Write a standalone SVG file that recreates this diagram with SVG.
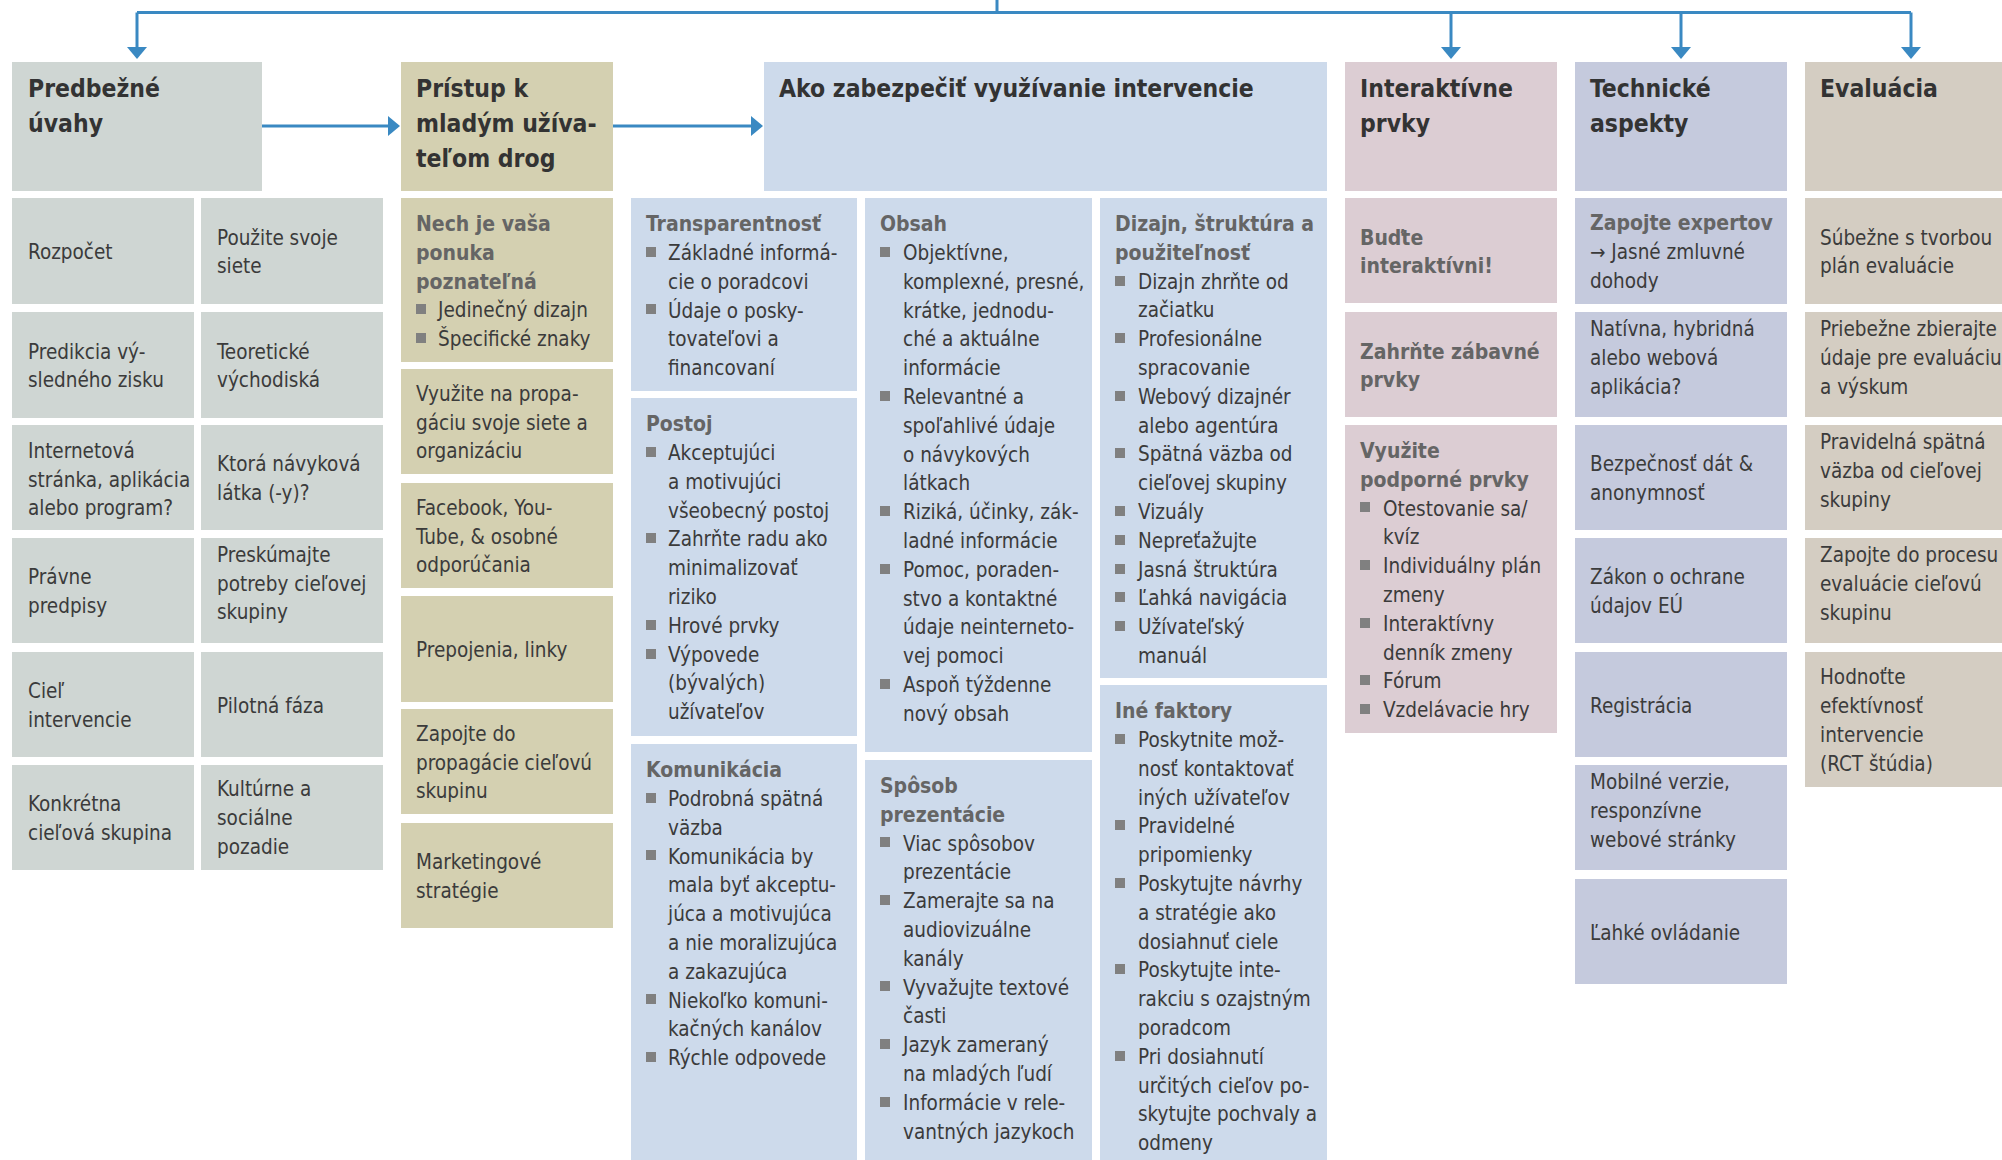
<svg xmlns="http://www.w3.org/2000/svg" width="2002" height="1160" viewBox="0 0 2002 1160">
<style>
text{font-family:"DejaVu Sans Condensed","Liberation Sans Narrow",sans-serif;}
.h{font-size:24.5px;font-weight:bold;fill:#333333;}
.t{font-size:20.5px;fill:#3b3b3b;}
.s{font-size:21px;font-weight:bold;fill:#656565;}
.b{fill:#808080;}
.c1{fill:#cfd6d3;}
.c2{fill:#d4d0b1;}
.c3{fill:#cddaeb;}
.c4{fill:#dccdd3;}
.c5{fill:#c5cadd;}
.c6{fill:#d4cdc2;}
.ln{fill:none;stroke:#3a89c2;stroke-width:3;}
</style>
<defs>
<marker id="ah" viewBox="0 0 12 20" refX="0" refY="10" markerWidth="12" markerHeight="20" markerUnits="userSpaceOnUse" orient="auto">
<path d="M0,0 L12,10 L0,20 z" fill="#3a89c2"/>
</marker>
</defs>

<g id="connectors">
<path class="ln" d="M997,0 V12.5"/>
<path class="ln" d="M137,12.5 H1911"/>
<path class="ln" d="M137,12.5 V47" marker-end="url(#ah)"/>
<path class="ln" d="M1451,12.5 V47" marker-end="url(#ah)"/>
<path class="ln" d="M1681,12.5 V47" marker-end="url(#ah)"/>
<path class="ln" d="M1911,12.5 V47" marker-end="url(#ah)"/>
<path class="ln" d="M262,126 H388" marker-end="url(#ah)"/>
<path class="ln" d="M613,126 H751" marker-end="url(#ah)"/>
</g>

<!-- Column 1 -->
<g id="predbezne">
<rect class="c1" x="12" y="62" width="250" height="129"/>
<text class="h" x="28" y="97">Predbežné<tspan x="28" dy="35">úvahy</tspan></text>
</g>
<g id="p-rozpocet"><rect class="c1" x="12" y="198" width="182" height="106"/><text class="t" x="28" y="259">Rozpočet</text></g>
<g id="p-predikcia"><rect class="c1" x="12" y="312" width="182" height="106"/><text class="t" x="28" y="358.6">Predikcia vý-<tspan x="28" dy="28.8">sledného zisku</tspan></text></g>
<g id="p-internet"><rect class="c1" x="12" y="425" width="182" height="105"/><text class="t" x="28" y="457.7">Internetová<tspan x="28" dy="28.8">stránka, aplikácia</tspan><tspan x="28" dy="28.8">alebo program?</tspan></text></g>
<g id="p-pravne"><rect class="c1" x="12" y="538" width="182" height="105"/><text class="t" x="28" y="584.1">Právne<tspan x="28" dy="28.8">predpisy</tspan></text></g>
<g id="p-ciel"><rect class="c1" x="12" y="652" width="182" height="105"/><text class="t" x="28" y="698.1">Cieľ<tspan x="28" dy="28.8">intervencie</tspan></text></g>
<g id="p-konkretna"><rect class="c1" x="12" y="765" width="182" height="105"/><text class="t" x="28" y="811.1">Konkrétna<tspan x="28" dy="28.8">cieľová skupina</tspan></text></g>
<g id="p-pouzite"><rect class="c1" x="201" y="198" width="182" height="106"/><text class="t" x="217" y="244.6">Použite svoje<tspan x="217" dy="28.8">siete</tspan></text></g>
<g id="p-teoreticke"><rect class="c1" x="201" y="312" width="182" height="106"/><text class="t" x="217" y="358.6">Teoretické<tspan x="217" dy="28.8">východiská</tspan></text></g>
<g id="p-ktora"><rect class="c1" x="201" y="425" width="182" height="105"/><text class="t" x="217" y="471.1">Ktorá návyková<tspan x="217" dy="28.8">látka (-y)?</tspan></text></g>
<g id="p-preskumajte"><rect class="c1" x="201" y="538" width="182" height="105"/><text class="t" x="217" y="561.7">Preskúmajte<tspan x="217" dy="28.8">potreby cieľovej</tspan><tspan x="217" dy="28.8">skupiny</tspan></text></g>
<g id="p-pilotna"><rect class="c1" x="201" y="652" width="182" height="105"/><text class="t" x="217" y="712.5">Pilotná fáza</text></g>
<g id="p-kulturne"><rect class="c1" x="201" y="765" width="182" height="105"/><text class="t" x="217" y="796.3">Kultúrne a<tspan x="217" dy="28.8">sociálne</tspan><tspan x="217" dy="28.8">pozadie</tspan></text></g>

<!-- Column 2 -->
<g id="pristup">
<rect class="c2" x="401" y="62" width="212" height="129"/>
<text class="h" x="416" y="97">Prístup k<tspan x="416" dy="35">mladým užíva-</tspan><tspan x="416" dy="35">teľom drog</tspan></text>
</g>
<g id="a-nech"><rect class="c2" x="401" y="198" width="212" height="164"/>
<text class="s" x="416" y="231">Nech je vaša<tspan x="416" dy="28.8">ponuka</tspan><tspan x="416" dy="28.8">poznateľná</tspan></text>
<rect class="b" x="416" y="304" width="10" height="10"/><text class="t" x="438" y="317">Jedinečný dizajn</text>
<rect class="b" x="416" y="333" width="10" height="10"/><text class="t" x="438" y="346">Špecifické znaky</text>
</g>
<g id="a-vyuzite"><rect class="c2" x="401" y="369" width="212" height="105"/><text class="t" x="416" y="400.7">Využite na propa-<tspan x="416" dy="28.8">gáciu svoje siete a</tspan><tspan x="416" dy="28.8">organizáciu</tspan></text></g>
<g id="a-facebook"><rect class="c2" x="401" y="483" width="212" height="105"/><text class="t" x="416" y="514.7">Facebook, You-<tspan x="416" dy="28.8">Tube, &amp; osobné</tspan><tspan x="416" dy="28.8">odporúčania</tspan></text></g>
<g id="a-prepojenia"><rect class="c2" x="401" y="596" width="212" height="106"/><text class="t" x="416" y="657">Prepojenia, linky</text></g>
<g id="a-zapojte"><rect class="c2" x="401" y="709" width="212" height="105"/><text class="t" x="416" y="740.7">Zapojte do<tspan x="416" dy="28.8">propagácie cieľovú</tspan><tspan x="416" dy="28.8">skupinu</tspan></text></g>
<g id="a-marketing"><rect class="c2" x="401" y="823" width="212" height="105"/><text class="t" x="416" y="869">Marketingové<tspan x="416" dy="28.8">stratégie</tspan></text></g>

<!-- Column 3 -->
<g id="ako">
<rect class="c3" x="764" y="62" width="563" height="129"/>
<text class="h" x="779" y="97">Ako zabezpečiť využívanie intervencie</text>
</g>
<g id="u-transparentnost"><rect class="c3" x="631" y="198" width="226" height="193"/>
<text class="s" x="646" y="231">Transparentnosť</text>
<rect class="b" x="646" y="247" width="10" height="10"/>
<rect class="b" x="646" y="304" width="10" height="10"/>
<text class="t" x="668" y="260">Základné informá-<tspan x="668" dy="28.8">cie o poradcovi</tspan><tspan x="668" dy="28.8">Údaje o posky-</tspan><tspan x="668" dy="28.8">tovateľovi a</tspan><tspan x="668" dy="28.8">financovaní</tspan></text>
</g>
<g id="u-postoj"><rect class="c3" x="631" y="398" width="226" height="338"/>
<text class="s" x="646" y="431">Postoj</text>
<rect class="b" x="646" y="447" width="10" height="10"/>
<rect class="b" x="646" y="533" width="10" height="10"/>
<rect class="b" x="646" y="620" width="10" height="10"/>
<rect class="b" x="646" y="649" width="10" height="10"/>
<text class="t" x="668" y="460">Akceptujúci<tspan x="668" dy="28.8">a motivujúci</tspan><tspan x="668" dy="28.8">všeobecný postoj</tspan><tspan x="668" dy="28.8">Zahrňte radu ako</tspan><tspan x="668" dy="28.8">minimalizovať</tspan><tspan x="668" dy="28.8">riziko</tspan><tspan x="668" dy="28.8">Hrové prvky</tspan><tspan x="668" dy="28.8">Výpovede</tspan><tspan x="668" dy="28.8">(bývalých)</tspan><tspan x="668" dy="28.8">užívateľov</tspan></text>
</g>
<g id="u-komunikacia"><rect class="c3" x="631" y="744" width="226" height="416"/>
<text class="s" x="646" y="777">Komunikácia</text>
<rect class="b" x="646" y="793" width="10" height="10"/>
<rect class="b" x="646" y="850" width="10" height="10"/>
<rect class="b" x="646" y="994" width="10" height="10"/>
<rect class="b" x="646" y="1052" width="10" height="10"/>
<text class="t" x="668" y="806">Podrobná spätná<tspan x="668" dy="28.8">väzba</tspan><tspan x="668" dy="28.8">Komunikácia by</tspan><tspan x="668" dy="28.8">mala byť akceptu-</tspan><tspan x="668" dy="28.8">júca a motivujúca</tspan><tspan x="668" dy="28.8">a nie moralizujúca</tspan><tspan x="668" dy="28.8">a zakazujúca</tspan><tspan x="668" dy="28.8">Niekoľko komuni-</tspan><tspan x="668" dy="28.8">kačných kanálov</tspan><tspan x="668" dy="28.8">Rýchle odpovede</tspan></text>
</g>
<g id="u-obsah"><rect class="c3" x="865" y="198" width="227" height="554"/>
<text class="s" x="880" y="231">Obsah</text>
<rect class="b" x="880" y="247" width="10" height="10"/>
<rect class="b" x="880" y="391" width="10" height="10"/>
<rect class="b" x="880" y="506" width="10" height="10"/>
<rect class="b" x="880" y="564" width="10" height="10"/>
<rect class="b" x="880" y="679" width="10" height="10"/>
<text class="t" x="903" y="260">Objektívne,<tspan x="903" dy="28.8">komplexné, presné,</tspan><tspan x="903" dy="28.8">krátke, jednodu-</tspan><tspan x="903" dy="28.8">ché a aktuálne</tspan><tspan x="903" dy="28.8">informácie</tspan><tspan x="903" dy="28.8">Relevantné a</tspan><tspan x="903" dy="28.8">spoľahlivé údaje</tspan><tspan x="903" dy="28.8">o návykových</tspan><tspan x="903" dy="28.8">látkach</tspan><tspan x="903" dy="28.8">Riziká, účinky, zák-</tspan><tspan x="903" dy="28.8">ladné informácie</tspan><tspan x="903" dy="28.8">Pomoc, poraden-</tspan><tspan x="903" dy="28.8">stvo a kontaktné</tspan><tspan x="903" dy="28.8">údaje neinterneto-</tspan><tspan x="903" dy="28.8">vej pomoci</tspan><tspan x="903" dy="28.8">Aspoň týždenne</tspan><tspan x="903" dy="28.8">nový obsah</tspan></text>
</g>
<g id="u-sposob"><rect class="c3" x="865" y="760" width="227" height="400"/>
<text class="s" x="880" y="793">Spôsob<tspan x="880" dy="28.8">prezentácie</tspan></text>
<rect class="b" x="880" y="837" width="10" height="10"/>
<rect class="b" x="880" y="895" width="10" height="10"/>
<rect class="b" x="880" y="981" width="10" height="10"/>
<rect class="b" x="880" y="1039" width="10" height="10"/>
<rect class="b" x="880" y="1097" width="10" height="10"/>
<text class="t" x="903" y="850.6">Viac spôsobov<tspan x="903" dy="28.8">prezentácie</tspan><tspan x="903" dy="28.8">Zamerajte sa na</tspan><tspan x="903" dy="28.8">audiovizuálne</tspan><tspan x="903" dy="28.8">kanály</tspan><tspan x="903" dy="28.8">Vyvažujte textové</tspan><tspan x="903" dy="28.8">časti</tspan><tspan x="903" dy="28.8">Jazyk zameraný</tspan><tspan x="903" dy="28.8">na mladých ľudí</tspan><tspan x="903" dy="28.8">Informácie v rele-</tspan><tspan x="903" dy="28.8">vantných jazykoch</tspan></text>
</g>
<g id="u-dizajn"><rect class="c3" x="1100" y="198" width="227" height="480"/>
<text class="s" x="1115" y="231">Dizajn, štruktúra a<tspan x="1115" dy="28.8">použiteľnosť</tspan></text>
<rect class="b" x="1115" y="276" width="10" height="10"/>
<rect class="b" x="1115" y="333" width="10" height="10"/>
<rect class="b" x="1115" y="391" width="10" height="10"/>
<rect class="b" x="1115" y="448" width="10" height="10"/>
<rect class="b" x="1115" y="506" width="10" height="10"/>
<rect class="b" x="1115" y="535" width="10" height="10"/>
<rect class="b" x="1115" y="564" width="10" height="10"/>
<rect class="b" x="1115" y="592" width="10" height="10"/>
<rect class="b" x="1115" y="621" width="10" height="10"/>
<text class="t" x="1138" y="288.6">Dizajn zhrňte od<tspan x="1138" dy="28.8">začiatku</tspan><tspan x="1138" dy="28.8">Profesionálne</tspan><tspan x="1138" dy="28.8">spracovanie</tspan><tspan x="1138" dy="28.8">Webový dizajnér</tspan><tspan x="1138" dy="28.8">alebo agentúra</tspan><tspan x="1138" dy="28.8">Spätná väzba od</tspan><tspan x="1138" dy="28.8">cieľovej skupiny</tspan><tspan x="1138" dy="28.8">Vizuály</tspan><tspan x="1138" dy="28.8">Nepreťažujte</tspan><tspan x="1138" dy="28.8">Jasná štruktúra</tspan><tspan x="1138" dy="28.8">Ľahká navigácia</tspan><tspan x="1138" dy="28.8">Užívateľský</tspan><tspan x="1138" dy="28.8">manuál</tspan></text>
</g>
<g id="u-ine"><rect class="c3" x="1100" y="685" width="227" height="475"/>
<text class="s" x="1115" y="718">Iné faktory</text>
<rect class="b" x="1115" y="734" width="10" height="10"/>
<rect class="b" x="1115" y="820" width="10" height="10"/>
<rect class="b" x="1115" y="878" width="10" height="10"/>
<rect class="b" x="1115" y="964" width="10" height="10"/>
<rect class="b" x="1115" y="1051" width="10" height="10"/>
<text class="t" x="1138" y="747">Poskytnite mož-<tspan x="1138" dy="28.8">nosť kontaktovať</tspan><tspan x="1138" dy="28.8">iných užívateľov</tspan><tspan x="1138" dy="28.8">Pravidelné</tspan><tspan x="1138" dy="28.8">pripomienky</tspan><tspan x="1138" dy="28.8">Poskytujte návrhy</tspan><tspan x="1138" dy="28.8">a stratégie ako</tspan><tspan x="1138" dy="28.8">dosiahnuť ciele</tspan><tspan x="1138" dy="28.8">Poskytujte inte-</tspan><tspan x="1138" dy="28.8">rakciu s ozajstným</tspan><tspan x="1138" dy="28.8">poradcom</tspan><tspan x="1138" dy="28.8">Pri dosiahnutí</tspan><tspan x="1138" dy="28.8">určitých cieľov po-</tspan><tspan x="1138" dy="28.8">skytujte pochvaly a</tspan><tspan x="1138" dy="28.8">odmeny</tspan></text>
</g>

<!-- Column 4 -->
<g id="interaktivne">
<rect class="c4" x="1345" y="62" width="212" height="129"/>
<text class="h" x="1360" y="97">Interaktívne<tspan x="1360" dy="35">prvky</tspan></text>
</g>
<g id="i-budte"><rect class="c4" x="1345" y="198" width="212" height="105"/><text class="s" x="1360" y="244.6">Buďte<tspan x="1360" dy="28.8">interaktívni!</tspan></text></g>
<g id="i-zahrnte"><rect class="c4" x="1345" y="312" width="212" height="105"/><text class="s" x="1360" y="358.6">Zahrňte zábavné<tspan x="1360" dy="28.8">prvky</tspan></text></g>
<g id="i-vyuzite"><rect class="c4" x="1345" y="425" width="212" height="308"/>
<text class="s" x="1360" y="458">Využite<tspan x="1360" dy="28.8">podporné prvky</tspan></text>
<rect class="b" x="1360" y="502" width="10" height="10"/>
<rect class="b" x="1360" y="560" width="10" height="10"/>
<rect class="b" x="1360" y="618" width="10" height="10"/>
<rect class="b" x="1360" y="675" width="10" height="10"/>
<rect class="b" x="1360" y="704" width="10" height="10"/>
<text class="t" x="1383" y="515.6">Otestovanie sa/<tspan x="1383" dy="28.8">kvíz</tspan><tspan x="1383" dy="28.8">Individuálny plán</tspan><tspan x="1383" dy="28.8">zmeny</tspan><tspan x="1383" dy="28.8">Interaktívny</tspan><tspan x="1383" dy="28.8">denník zmeny</tspan><tspan x="1383" dy="28.8">Fórum</tspan><tspan x="1383" dy="28.8">Vzdelávacie hry</tspan></text>
</g>

<!-- Column 5 -->
<g id="technicke">
<rect class="c5" x="1575" y="62" width="212" height="129"/>
<text class="h" x="1590" y="97">Technické<tspan x="1590" dy="35">aspekty</tspan></text>
</g>
<g id="t-expertov"><rect class="c5" x="1575" y="198" width="212" height="106"/><text class="s" x="1590" y="230.2">Zapojte expertov</text><text class="t" x="1590" y="259">→ Jasné zmluvné<tspan x="1590" dy="28.8">dohody</tspan></text></g>
<g id="t-nativna"><rect class="c5" x="1575" y="312" width="212" height="105"/><text class="t" x="1590" y="336">Natívna, hybridná<tspan x="1590" dy="28.8">alebo webová</tspan><tspan x="1590" dy="28.8">aplikácia?</tspan></text></g>
<g id="t-bezpecnost"><rect class="c5" x="1575" y="425" width="212" height="105"/><text class="t" x="1590" y="471.1">Bezpečnosť dát &amp;<tspan x="1590" dy="28.8">anonymnosť</tspan></text></g>
<g id="t-zakon"><rect class="c5" x="1575" y="538" width="212" height="105"/><text class="t" x="1590" y="584.1">Zákon o ochrane<tspan x="1590" dy="28.8">údajov EÚ</tspan></text></g>
<g id="t-registracia"><rect class="c5" x="1575" y="652" width="212" height="105"/><text class="t" x="1590" y="712.5">Registrácia</text></g>
<g id="t-mobilne"><rect class="c5" x="1575" y="765" width="212" height="105"/><text class="t" x="1590" y="789.1">Mobilné verzie,<tspan x="1590" dy="28.8">responzívne</tspan><tspan x="1590" dy="28.8">webové stránky</tspan></text></g>
<g id="t-lahke"><rect class="c5" x="1575" y="879" width="212" height="105"/><text class="t" x="1590" y="939.5">Ľahké ovládanie</text></g>

<!-- Column 6 -->
<g id="evaluacia">
<rect class="c6" x="1805" y="62" width="197" height="129"/>
<text class="h" x="1820" y="97">Evaluácia</text>
</g>
<g id="e-subezne"><rect class="c6" x="1805" y="198" width="197" height="106"/><text class="t" x="1820" y="244.6">Súbežne s tvorbou<tspan x="1820" dy="28.8">plán evaluácie</tspan></text></g>
<g id="e-priebezne"><rect class="c6" x="1805" y="312" width="197" height="105"/><text class="t" x="1820" y="336">Priebežne zbierajte<tspan x="1820" dy="28.8">údaje pre evaluáciu</tspan><tspan x="1820" dy="28.8">a výskum</tspan></text></g>
<g id="e-pravidelna"><rect class="c6" x="1805" y="425" width="197" height="105"/><text class="t" x="1820" y="449.3">Pravidelná spätná<tspan x="1820" dy="28.8">väzba od cieľovej</tspan><tspan x="1820" dy="28.8">skupiny</tspan></text></g>
<g id="e-zapojte"><rect class="c6" x="1805" y="538" width="197" height="105"/><text class="t" x="1820" y="562.3">Zapojte do procesu<tspan x="1820" dy="28.8">evaluácie cieľovú</tspan><tspan x="1820" dy="28.8">skupinu</tspan></text></g>
<g id="e-hodnotte"><rect class="c6" x="1805" y="652" width="197" height="135"/><text class="t" x="1820" y="684.3">Hodnoťte<tspan x="1820" dy="28.8">efektívnosť</tspan><tspan x="1820" dy="28.8">intervencie</tspan><tspan x="1820" dy="28.8">(RCT štúdia)</tspan></text></g>
</svg>
